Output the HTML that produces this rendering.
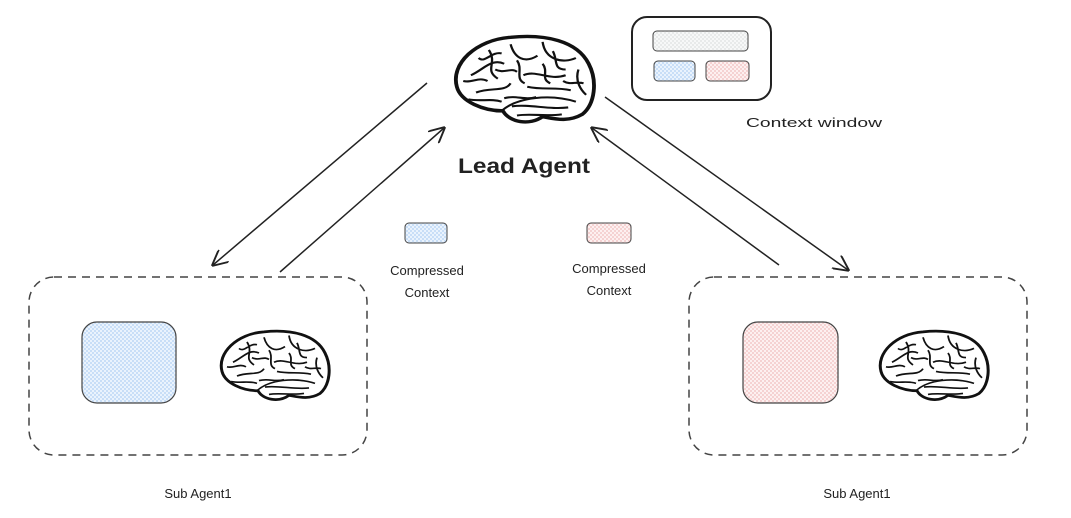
<!DOCTYPE html>
<html><head><meta charset="utf-8"><style>
html,body{margin:0;padding:0;background:#fff;width:1071px;height:518px;overflow:hidden}
text{font-family:"Liberation Sans",sans-serif;fill:#222}
</style></head><body>
<svg width="1071" height="518" viewBox="0 0 1071 518" xmlns="http://www.w3.org/2000/svg">
<defs>
<pattern id="pb" width="4" height="4" patternUnits="userSpaceOnUse"><rect width="4" height="4" fill="#eaf3fd"/><rect width="2" height="2" fill="#c8def7"/><rect x="2" y="2" width="2" height="2" fill="#c8def7"/></pattern>
<pattern id="pp" width="4" height="4" patternUnits="userSpaceOnUse"><rect width="4" height="4" fill="#fdf0f0"/><rect width="2" height="2" fill="#f5d2d2"/><rect x="2" y="2" width="2" height="2" fill="#f5d2d2"/></pattern>
<pattern id="pg" width="4" height="4" patternUnits="userSpaceOnUse"><rect width="4" height="4" fill="#f7f8f8"/><rect width="2" height="2" fill="#e8eaea"/><rect x="2" y="2" width="2" height="2" fill="#e8eaea"/></pattern>
<g id="brain">
<path d="M3,45 C-2,25 18,4 45,2 C72,-1 97,5 106,25 C113,40 111,60 101,69 C90,76 80,73 70,71 C60,79 44,76 39,66 C24,66 6,58 3,45 Z" fill="#fff" stroke="#111" stroke-width="3"/>
<path d="M38,66 C50,54 76,51 96,58 M14,35 C24,30 30,20 40,25 M45,8 C48,20 56,25 66,18 M70,6 C72,22 86,25 96,20 M18,50 C30,45 40,50 45,42 M55,35 C65,30 75,40 88,35 M28,13 C35,25 24,30 35,38 M58,45 C70,48 80,45 92,48 M46,62 C60,60 75,65 90,63 M8,40 C15,42 20,36 27,40 M20,20 C25,25 30,14 38,16 M50,22 C55,30 48,38 56,42 M78,14 C82,22 78,30 88,30 M98,30 C95,40 100,48 104,52 M40,55 C50,52 55,57 65,54 M70,25 C75,32 68,38 76,42 M86,40 C92,44 96,40 102,42 M12,56 C22,58 30,55 38,58 M50,70 C60,68 72,71 85,69 M33,30 C40,34 45,28 50,32" fill="none" stroke="#111" stroke-width="1.8"/>
</g>
<marker id="ah" viewBox="0 0 10 10" refX="9" refY="5" markerWidth="16" markerHeight="16" orient="auto" markerUnits="userSpaceOnUse"><path d="M0,0 L10,5 L0,10" fill="none" stroke="#222" stroke-width="1.2"/></marker>
</defs>

<use href="#brain" transform="translate(453,35) scale(1.28,1.15)"/>
<text x="458" y="173" font-size="21" font-weight="bold" textLength="132" lengthAdjust="spacingAndGlyphs">Lead Agent</text>

<rect x="632" y="17" width="139" height="83" rx="15" fill="#fff" stroke="#222" stroke-width="2"/>
<rect x="653" y="31" width="95" height="20" rx="4" fill="url(#pg)" stroke="#444" stroke-width="1"/>
<rect x="654" y="61" width="41" height="20" rx="4" fill="url(#pb)" stroke="#444" stroke-width="1"/>
<rect x="706" y="61" width="43" height="20" rx="4" fill="url(#pp)" stroke="#444" stroke-width="1"/>
<text x="746" y="127" font-size="13" textLength="136" lengthAdjust="spacingAndGlyphs">Context window</text>

<g stroke="#222" stroke-width="1.5" fill="none">
<line x1="427" y1="83" x2="213" y2="265" marker-end="url(#ah)"/>
<line x1="280" y1="272" x2="444" y2="128" marker-end="url(#ah)"/>
<line x1="605" y1="97" x2="848" y2="270" marker-end="url(#ah)"/>
<line x1="779" y1="265" x2="592" y2="128" marker-end="url(#ah)"/>
</g>

<rect x="405" y="223" width="42" height="20" rx="4" fill="url(#pb)" stroke="#444" stroke-width="1"/>
<text x="427" y="275" font-size="13" text-anchor="middle">Compressed</text>
<text x="427" y="297" font-size="13" text-anchor="middle">Context</text>
<rect x="587" y="223" width="44" height="20" rx="4" fill="url(#pp)" stroke="#444" stroke-width="1"/>
<text x="609" y="273" font-size="13" text-anchor="middle">Compressed</text>
<text x="609" y="295" font-size="13" text-anchor="middle">Context</text>

<rect x="29" y="277" width="338" height="178" rx="25" fill="none" stroke="#444" stroke-width="1.5" stroke-dasharray="8 6"/>
<rect x="82" y="322" width="94" height="81" rx="15" fill="url(#pb)" stroke="#444" stroke-width="1.2"/>
<use href="#brain" transform="translate(219,330) scale(1.0,0.92)"/>
<text x="198" y="498" font-size="13" text-anchor="middle">Sub Agent1</text>

<rect x="689" y="277" width="338" height="178" rx="25" fill="none" stroke="#444" stroke-width="1.5" stroke-dasharray="8 6"/>
<rect x="743" y="322" width="95" height="81" rx="15" fill="url(#pp)" stroke="#444" stroke-width="1.2"/>
<use href="#brain" transform="translate(878,330) scale(1.0,0.92)"/>
<text x="857" y="498" font-size="13" text-anchor="middle">Sub Agent1</text>
</svg>
</body></html>
